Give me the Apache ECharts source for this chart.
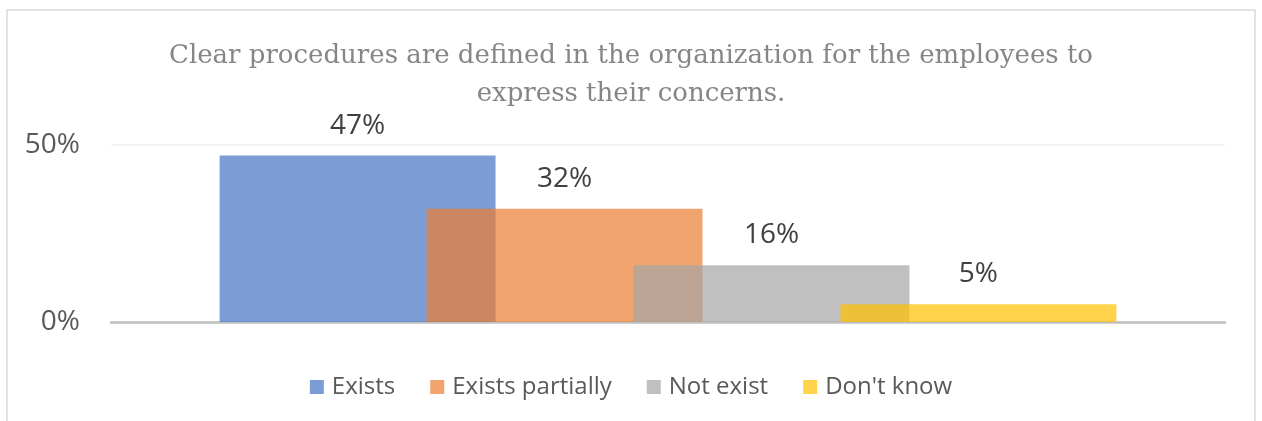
<!DOCTYPE html>
<html>
<head>
<meta charset="utf-8">
<style>
  html, body { margin: 0; padding: 0; background: #ffffff; }
  #chart { width: 1262px; height: 421px; }
</style>
<script src="https://cdn.jsdelivr.net/npm/echarts@6/dist/echarts.min.js"></script>
</head>
<body>
<div id="chart"></div>
<script>
// Survey answers: share of respondents per answer
const categories = [''];
const seriesNames = ['Exists', 'Exists partially', 'Not exist', "Don't know"];
const existsValues = [47];
const partialValues = [32];
const notExistValues = [16];
const dontKnowValues = [5];
const yTicks = [0, 50];
const titleText = 'Clear procedures are defined in the organization for the employees to\nexpress their concerns.';

// semi-transparent fills so overlapping bars show through
const colors = [
  'rgba(68,114,196,0.7)',
  'rgba(237,125,49,0.7)',
  'rgba(165,165,165,0.7)',
  'rgba(255,192,0,0.7)'
];
const valueSets = [existsValues, partialValues, notExistValues, dontKnowValues];

const chart = echarts.init(document.getElementById('chart'), null, { renderer: 'canvas' });

const series = seriesNames.map((name, i) => ({
  name: name,
  type: 'bar',
  data: valueSets[i],
  barGap: '-25%',
  barCategoryGap: '19.5%',
  itemStyle: { color: colors[i] },
  label: {
    show: true,
    position: 'top',
    distance: 16,
    formatter: '{c}%',
    color: '#404040',
    fontSize: 28,
    fontFamily: 'Open Sans'
  },
  emphasis: { disabled: true }
}));

chart.setOption({
  animation: false,
  title: {
    text: titleText,
    left: 'center',
    top: 32,
    textStyle: {
      fontFamily: 'DejaVu Serif',
      fontWeight: 'normal',
      fontSize: 26,
      color: '#868686',
      lineHeight: 38
    }
  },
  graphic: [{
    type: 'rect',
    shape: { x: 7, y: 10, width: 1248, height: 430 },
    style: { fill: 'none', stroke: '#d9d9d9', lineWidth: 1.5 },
    silent: true
  }],
  legend: {
    data: seriesNames,
    top: 370,
    left: 'center',
    itemWidth: 14,
    itemHeight: 14,
    itemGap: 35,
    icon: 'rect',
    textStyle: { fontSize: 24, color: '#595959', fontFamily: 'Open Sans', padding: [0, 0, 0, 3] }
  },
  grid: { left: 111, right: 37, top: 145, bottom: 99 },
  xAxis: {
    type: 'category',
    data: categories,
    axisLine: { lineStyle: { color: '#bfbfbf', width: 2.5 } },
    axisTick: { show: false },
    axisLabel: { show: false }
  },
  yAxis: {
    type: 'value',
    min: yTicks[0],
    max: yTicks[yTicks.length - 1],
    interval: yTicks[1] - yTicks[0],
    axisLine: { show: false },
    axisTick: { show: false },
    splitLine: { lineStyle: { color: '#f0f0f0', width: 1.5 } },
    axisLabel: {
      formatter: '{value}%',
      color: '#595959',
      fontSize: 28,
      fontFamily: 'Open Sans',
      margin: 31
    }
  },
  series: series
});
</script>
</body>
</html>
